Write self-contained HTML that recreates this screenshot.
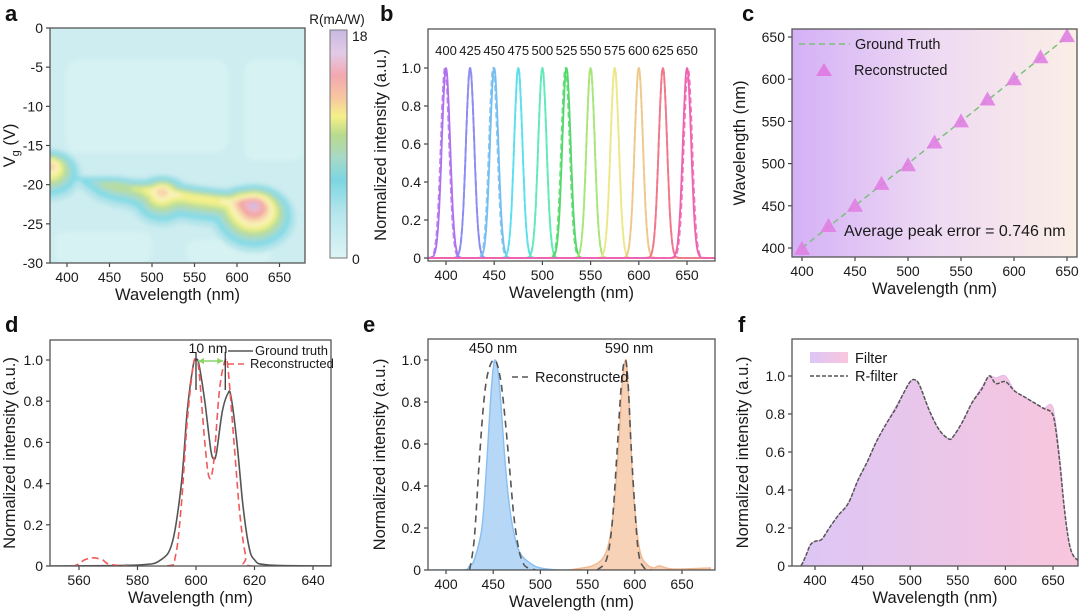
<!DOCTYPE html>
<html><head><meta charset="utf-8"><style>
body{margin:0;background:#fff}
svg{display:block;font-family:"Liberation Sans",Arial,sans-serif}
</style></head><body>
<svg id="fig" width="1080" height="611" viewBox="0 0 1080 611" xmlns="http://www.w3.org/2000/svg">
<defs>
<filter id="blur4" x="-20%" y="-20%" width="140%" height="140%"><feGaussianBlur stdDeviation="1.8"/></filter>
<linearGradient id="cbg" x1="0" y1="0" x2="1" y2="0"><stop offset="0" stop-color="#d4b0f6"/><stop offset="0.5" stop-color="#eedaf3"/><stop offset="1" stop-color="#fbeee6"/></linearGradient>
<linearGradient id="fgrad" x1="0" y1="0" x2="1" y2="0"><stop offset="0" stop-color="#dcc6f6"/><stop offset="1" stop-color="#f9c6dc"/></linearGradient>
<linearGradient id="cbar" x1="0" y1="0" x2="0" y2="1">
<stop offset="0" stop-color="#c8b8e2"/><stop offset="0.1" stop-color="#e2cbe8"/><stop offset="0.2" stop-color="#f2a8b0"/><stop offset="0.3" stop-color="#f7c8a0"/><stop offset="0.38" stop-color="#f5f08a"/><stop offset="0.46" stop-color="#b8da8c"/><stop offset="0.56" stop-color="#a8d8c8"/><stop offset="0.66" stop-color="#7cd6e2"/><stop offset="0.8" stop-color="#b4e6ec"/><stop offset="1" stop-color="#ddf4f5"/></linearGradient>
</defs>
</svg>
<script>
// ---------- data ----------
const aRidgeWl=[380,390,400,415,430,445,460,475,490,505,512,520,535,550,565,580,595,610,620,630];
const aRidgeVg=[-17.5,-18,-18.6,-19.2,-19.6,-19.9,-20.1,-20.4,-20.6,-20.8,-20.8,-21.1,-21.3,-21.6,-21.8,-22,-22.2,-22.4,-22.6,-23];
const aRidgeR=[13,9,5,3,5,7,8,8,9,11,13,11,10,10,10,10,11,15,17,11];
const bPeaks=[400,425,450,475,500,525,550,575,600,625,650];
const bRecon=[399,425,449,475,500,524,550,575,600,625,651];
const bLabels=["400","425","450","475","500","525","550","575","600","625","650"];
const cTruth=[400,425,450,475,500,525,550,575,600,625,650];
const cRecon=[399,426,450,476,498,525,550,576,600,626,651];
const dWl=[550,580,588,592,595,597,599,600,601,603,605,606,607,609,611,612,614,616,618,620,625,650];
const dTruth=[0,0.005,0.03,0.12,0.4,0.75,0.97,1.0,0.98,0.8,0.57,0.52,0.55,0.75,0.84,0.82,0.6,0.3,0.1,0.03,0.005,0];
const dRWl=[550,558,562,565,568,572,590,593,595,597,599,600,601,603,604.5,606,608,610,611,613,615,617,619,650];
const dRecon=[0,0,0.03,0.04,0.03,0.005,0,0.05,0.3,0.7,0.97,1.0,0.95,0.6,0.43,0.5,0.85,1.0,0.95,0.6,0.25,0.05,0,0];
const eBWl=[380,418,425,430,438,443,447,450,452,455,458,462,466,470,475,480,490,500,520,550];
const eBlue=[0,0,0.02,0.05,0.2,0.5,0.8,0.96,1.0,0.95,0.8,0.55,0.35,0.22,0.12,0.07,0.03,0.01,0,0];
const eBRWl=[425,430,435,440,445,452,458,463,468,472,477,482,487,495];
const eBRecon=[0,0.15,0.5,0.8,0.95,1.0,0.9,0.7,0.45,0.25,0.1,0.03,0.01,0];
const eOWl=[530,545,555,565,572,578,583,587,590,592,595,598,602,606,612,620,626,640,680];
const eOrange=[0,0.01,0.02,0.05,0.12,0.3,0.6,0.9,1.0,0.95,0.7,0.4,0.2,0.08,0.03,0.01,0.02,0.005,0.01];
const eORWl=[560,570,576,581,586,590,593,596,600,604,610,618];
const eORecon=[0,0.05,0.22,0.55,0.9,1.0,0.88,0.6,0.3,0.08,0.01,0];
const fWl=[380,385,390,395,400,407,415,425,435,445,455,465,475,485,492,500,505,510,520,530,540,545,555,565,575,583,590,600,610,620,630,640,648,652,657,662,667,672,680];
const fFilter=[0,0,0.05,0.11,0.13,0.14,0.2,0.27,0.33,0.45,0.55,0.66,0.75,0.84,0.9,0.97,0.98,0.95,0.82,0.72,0.67,0.68,0.76,0.86,0.94,1.0,0.99,1.0,0.92,0.89,0.86,0.83,0.85,0.78,0.57,0.3,0.12,0.05,0.02];
const fRFilter=[0,0,0.05,0.11,0.13,0.14,0.2,0.27,0.33,0.45,0.55,0.66,0.75,0.83,0.9,0.97,0.98,0.95,0.82,0.72,0.67,0.68,0.76,0.86,0.93,1.0,0.96,0.97,0.92,0.89,0.86,0.83,0.81,0.75,0.55,0.3,0.12,0.05,0.02];
const xt400=["400","450","500","550","600","650"];
const yt01=["0","0.2","0.4","0.6","0.8","1.0"];

// ---------- helpers ----------
const NS='http://www.w3.org/2000/svg';
const svg=document.getElementById('fig');
function mk(tag,attrs,parent){const e=document.createElementNS(NS,tag);for(const k in attrs)e.setAttribute(k,attrs[k]);(parent||svg).appendChild(e);return e;}
function txt(x,y,s,size,anchor,parent){const t=mk('text',{x:x,y:y,'font-size':size,'text-anchor':anchor||'middle',fill:'#1a1a1a'},parent);t.textContent=s;return t;}
function smooth(pts){let d='M'+pts[0][0].toFixed(1)+','+pts[0][1].toFixed(1);for(let i=0;i<pts.length-1;i++){const p0=pts[i-1]||pts[i],p1=pts[i],p2=pts[i+1],p3=pts[i+2]||p2;const c1=[p1[0]+(p2[0]-p0[0])/6,p1[1]+(p2[1]-p0[1])/6],c2=[p2[0]-(p3[0]-p1[0])/6,p2[1]-(p3[1]-p1[1])/6];d+=' C'+c1[0].toFixed(1)+','+c1[1].toFixed(1)+' '+c2[0].toFixed(1)+','+c2[1].toFixed(1)+' '+p2[0].toFixed(1)+','+p2[1].toFixed(1);}return d;}
function mkScale(d0,d1,r0,r1){return v=>r0+(v-d0)*(r1-r0)/(d1-d0);}
let clipN=0;
function panel(name,box,xs,ys,xv,xl,yv,yl,xtitle,ytitle,ytx,letter,lx,ly){
  const g=mk('g',{});
  
  
  const id='clip'+(clipN++);
  const cp=mk('clipPath',{id:id},svg.querySelector('defs'));
  mk('rect',{x:box[0],y:box[1],width:box[2]-box[0],height:box[3]-box[1]},cp);
  const plot=mk('g',{'clip-path':'url(#'+id+')'},g);
  
  
  const ax=mk('g',{},g);
  
  
  xv.forEach((v,i)=>{const x=xs(v);mk('line',{x1:x,x2:x,y1:box[3],y2:box[3]+4,stroke:'#444','stroke-width':1.2},ax);
    const t=txt(x,box[3]+19,xl[i],14,'middle',ax);
    
    });
  yv.forEach((v,i)=>{const y=ys(v);mk('line',{x1:box[0]-4,x2:box[0],y1:y,y2:y,stroke:'#444','stroke-width':1.2},ax);
    const t=txt(box[0]-7,y+5,yl[i],14,'end',ax);
    
    });
  const xt=txt((box[0]+box[2])/2,box[3]+37,xtitle,16.5,'middle',ax);
  
  
  const cy=(box[1]+box[3])/2;
  const yt=mk('text',{x:ytx,y:cy,'font-size':16.5,'text-anchor':'middle',fill:'#1a1a1a',transform:'rotate(-90 '+ytx+' '+cy+')'},ax);
  if(ytitle==='Vg'){yt.innerHTML='V<tspan font-size="11" dy="4">g</tspan><tspan dy="-4"> (V)</tspan>';}else yt.textContent=ytitle;
  
  
  const lt=mk('text',{x:lx,y:ly,'font-size':22,'font-weight':'bold',fill:'#111'},g);
  lt.textContent=letter;
  
  
  return {g:g,plot:plot,frame:()=>{const f=mk('rect',{x:box[0],y:box[1],width:box[2]-box[0],height:box[3]-box[1],fill:'none',stroke:'#555','stroke-width':1.3},g);
    
    }};
}
function curve(parent,xs,ys,wl,val,attrs,name,fill){
  const pts=wl.map((w,i)=>[xs(w),ys(val[i])]);
  let d=smooth(pts);
  if(fill){d+=' L'+pts[pts.length-1][0]+','+ys(0)+' L'+pts[0][0]+','+ys(0)+' Z';}
  const p=mk('path',Object.assign({d:d},attrs),parent);
  
  
  return p;
}
const yv01=[0,0.2,0.4,0.6,0.8,1.0];
const xv400=[400,450,500,550,600,650];

// ---------- panel a ----------
(function(){
  const box=[50,28,305,263];
  const xs=mkScale(380,680,50,305), ys=mkScale(0,-30,28,263);
  const P=panel('panel-a-heatmap',box,xs,ys,xv400,xt400,[0,-5,-10,-15,-20,-25,-30],["0","-5","-10","-15","-20","-25","-30"],'Wavelength (nm)','Vg',15,'a',5,21);
  const bg=mk('rect',{x:50,y:28,width:255,height:235,fill:'#cdedf0'},P.plot);
  
  
  const soft=mk('g',{filter:'url(#blur4)'},P.plot);
  
  
  mk('rect',{x:xs(398),y:ys(-4),width:xs(590)-xs(398),height:ys(-16)-ys(-4),rx:14,fill:'#d6f2f3'},soft);
  mk('rect',{x:xs(608),y:ys(-4),width:xs(678)-xs(608),height:ys(-17)-ys(-4),rx:12,fill:'#d6f2f3'},soft);
  mk('rect',{x:xs(385),y:ys(-26),width:xs(500)-xs(385),height:ys(-30)-ys(-26),rx:10,fill:'#d6f2f3'},soft);
  mk('rect',{x:xs(540),y:ys(-27),width:xs(640)-xs(540),height:ys(-30)-ys(-27),rx:10,fill:'#d6f2f3'},soft);
  const levels=[1,3,5,6.5,8,9,10,11.5,13,15,16.5];
  const cols=['#b4e4ea','#86dbe6','#a6d9cf','#b6dca2','#d9e98c','#f3f08c','#f8f3b8','#f8d6aa','#f3a9a6','#ecb6cc','#cdbde4'];
  levels.forEach((L,li)=>{
    const lg=mk('g',{fill:cols[li]},soft);
    for(let i=0;i<aRidgeWl.length-1;i++){
      for(let s=0;s<6;s++){
        const t=s/6;
        const w=aRidgeWl[i]+(aRidgeWl[i+1]-aRidgeWl[i])*t;
        const v=aRidgeVg[i]+(aRidgeVg[i+1]-aRidgeVg[i])*t;
        const r=aRidgeR[i]+(aRidgeR[i+1]-aRidgeR[i])*t;
        if(r>L){const rad=2.2*(r-L)+1.5;
          mk('ellipse',{cx:xs(w),cy:ys(v)+0.35*rad,rx:rad*1.15,ry:rad*0.95,fill:cols[li]},lg);}
      }
    }
  });
  P.frame();
  // colorbar
  const cb=mk('rect',{x:330,y:30,width:17,height:228,fill:'url(#cbar)',stroke:'#777','stroke-width':1},svg);
  
  
  let t=txt(337,24,'R(mA/W)',13.5,'middle');
  
  
  t=txt(352,41,'18',14,'start');
  
  
  t=txt(352,264,'0',14,'start');
  
  
})();

// ---------- panel b ----------
(function(){
  const box=[428,29,715,261];
  const xs=mkScale(400,650,446,687), ys=mkScale(0,1,258,68);
  const P=panel('panel-b-peaks',box,xs,ys,xv400,xt400,yv01,yt01,'Wavelength (nm)','Normalized intensity (a.u.)',386,'b',380,21);
  const cols=['#b070ee','#8c8cf2','#74bdf0','#5ddfee','#62eab8','#52d96a','#a8e67a','#ece88a','#eec98e','#f0788a','#ee62b2'];
  function gpts(c){const w=[],v=[];for(let x=380;x<=680;x+=1){w.push(x);v.push(Math.exp(-Math.pow(x-c,2)/(2*4.3*4.3)));}return [w,v];}
  bPeaks.forEach((c,i)=>{
    const r=gpts(bRecon[i]);
    curve(P.plot,xs,ys,r[0],r[1],{fill:'none',stroke:cols[i],'stroke-width':2,'stroke-dasharray':'6 3',opacity:0.85},'reconstructed-peak-'+bLabels[i]);
    const g=gpts(c);
    curve(P.plot,xs,ys,g[0],g[1],{fill:'none',stroke:cols[i],'stroke-width':1.8},'truth-peak-'+bLabels[i]);
    const t=txt(xs(c),55,bLabels[i],13,'middle',P.g);
    
    
  });
  P.frame();
})();

// ---------- panel c ----------
(function(){
  const box=[792,29,1077,257];
  const xs=mkScale(400,650,802,1067), ys=mkScale(400,650,248,37);
  const P=panel('panel-c-scatter',box,xs,ys,xv400,xt400,[400,450,500,550,600,650],["400","450","500","550","600","650"],'Wavelength (nm)','Wavelength (nm)',745,'c',742,21);
  const bg=mk('rect',{x:792,y:29,width:285,height:228,fill:'url(#cbg)'},P.plot);
  
  
  const l=mk('line',{x1:xs(cTruth[0]),y1:ys(cTruth[0]),x2:xs(cTruth[cTruth.length-1]),y2:ys(cTruth[cTruth.length-1]),stroke:'#7cc07a','stroke-width':1.5,'stroke-dasharray':'6 4'},P.plot);
  
  
  cRecon.forEach((v,i)=>{const x=xs(cTruth[i]),y=ys(v);
    const tri=mk('polygon',{points:(x-8)+','+(y+6)+' '+(x+8)+','+(y+6)+' '+x+','+(y-8),fill:'#e07fe3',opacity:0.9},P.plot);
    
    });
  P.frame();
  const lg=mk('g',{},P.g);
  
  
  mk('line',{x1:799,x2:850,y1:44,y2:44,stroke:'#7cc07a','stroke-width':1.5,'stroke-dasharray':'6 4'},lg);
  txt(855,49,'Ground Truth',14.5,'start',lg);
  mk('polygon',{points:'816,76 832,76 824,63',fill:'#e07fe3'},lg);
  txt(854,75,'Reconstructed',14.5,'start',lg);
  const a=txt(844,236,'Average peak error = 0.746 nm',16,'start',P.g);
  
  
})();

// ---------- panel d ----------
(function(){
  const box=[50,340,331,566];
  const xs=mkScale(560,640,79,313), ys=mkScale(0,1,566,360);
  const P=panel('panel-d-double-peak',box,xs,ys,[560,580,600,620,640],["560","580","600","620","640"],yv01,yt01,'Wavelength (nm)','Normalized intensity (a.u.)',15,'d',5,332);
  curve(P.plot,xs,ys,dWl,dTruth,{fill:'none',stroke:'#555','stroke-width':1.6},'ground-truth-curve');
  curve(P.plot,xs,ys,dRWl,dRecon,{fill:'none',stroke:'#f05a5a','stroke-width':1.6,'stroke-dasharray':'7 4'},'reconstructed-curve');
  P.frame();
  const an=mk('g',{},P.g);
  
  
  mk('line',{x1:xs(600),x2:xs(600),y1:352,y2:390,stroke:'#222','stroke-width':1.2},an);
  mk('line',{x1:xs(610),x2:xs(610),y1:352,y2:390,stroke:'#222','stroke-width':1.2},an);
  mk('line',{x1:xs(600)+2,x2:xs(610)-2,y1:361,y2:361,stroke:'#8ad46a','stroke-width':1.5},an);
  mk('path',{d:'M'+(xs(600)+2)+',361 l6,-3 v6 z M'+(xs(610)-2)+',361 l-6,-3 v6 z',fill:'#8ad46a'},an);
  txt(208,353,'10 nm',14,'middle',an);
  const lg=mk('g',{},P.g);
  
  
  mk('line',{x1:228,x2:253,y1:351,y2:351,stroke:'#555','stroke-width':1.5},lg);
  txt(255,355,'Ground truth',13,'start',lg);
  mk('line',{x1:228,x2:248,y1:364,y2:364,stroke:'#f05a5a','stroke-width':1.5,'stroke-dasharray':'6 4'},lg);
  txt(250,368,'Reconstructed',13,'start',lg);
})();

// ---------- panel e ----------
(function(){
  const box=[428,339,715,570];
  const xs=mkScale(400,650,446,682), ys=mkScale(0,1,570,360);
  const P=panel('panel-e-two-peaks',box,xs,ys,xv400,xt400,yv01,yt01,'Wavelength (nm)','Normalized intensity (a.u.)',385,'e',363,332);
  curve(P.plot,xs,ys,eBWl,eBlue,{fill:'#b7d7f6',stroke:'#86bff0','stroke-width':1.4},'blue-450-spectrum',true);
  curve(P.plot,xs,ys,eOWl,eOrange,{fill:'#f8d2b6',stroke:'#f2b890','stroke-width':1.4},'orange-590-spectrum',true);
  curve(P.plot,xs,ys,eBRWl,eBRecon,{fill:'none',stroke:'#555','stroke-width':1.6,'stroke-dasharray':'7 5'},'reconstructed-450');
  curve(P.plot,xs,ys,eORWl,eORecon,{fill:'none',stroke:'#555','stroke-width':1.6,'stroke-dasharray':'7 5'},'reconstructed-590');
  P.frame();
  let t=txt(493,353,'450 nm',14.5,'middle',P.g);
  
  
  t=txt(629,353,'590 nm',14.5,'middle',P.g);
  
  
  const lg=mk('g',{},P.g);
  
  
  mk('line',{x1:512,x2:531,y1:377,y2:377,stroke:'#555','stroke-width':1.5,'stroke-dasharray':'6 4'},lg);
  txt(535,382,'Reconstructed',14.5,'start',lg);
})();

// ---------- panel f ----------
(function(){
  const box=[792,339,1078,566];
  const xs=mkScale(400,650,815,1053), ys=mkScale(0,1,566,376);
  const P=panel('panel-f-filter',box,xs,ys,xv400,xt400,yv01,yt01,'Wavelength (nm)','Normalized intensity (a.u.)',748,'f',738,332);
  curve(P.plot,xs,ys,fWl,fFilter,{fill:'url(#fgrad)',stroke:'#e2b8ee','stroke-width':1},'filter-area',true);
  curve(P.plot,xs,ys,fWl,fRFilter,{fill:'none',stroke:'#555','stroke-width':1.5,'stroke-dasharray':'4 1.5'},'r-filter-curve');
  P.frame();
  const lg=mk('g',{},P.g);
  
  
  mk('rect',{x:810,y:352,width:38,height:11,fill:'url(#fgrad)'},lg);
  txt(855,363,'Filter',14.5,'start',lg);
  mk('line',{x1:810,x2:848,y1:376,y2:376,stroke:'#555','stroke-width':1.4,'stroke-dasharray':'4 2'},lg);
  txt(855,381,'R-filter',14.5,'start',lg);
})();
</script>
</body></html>
